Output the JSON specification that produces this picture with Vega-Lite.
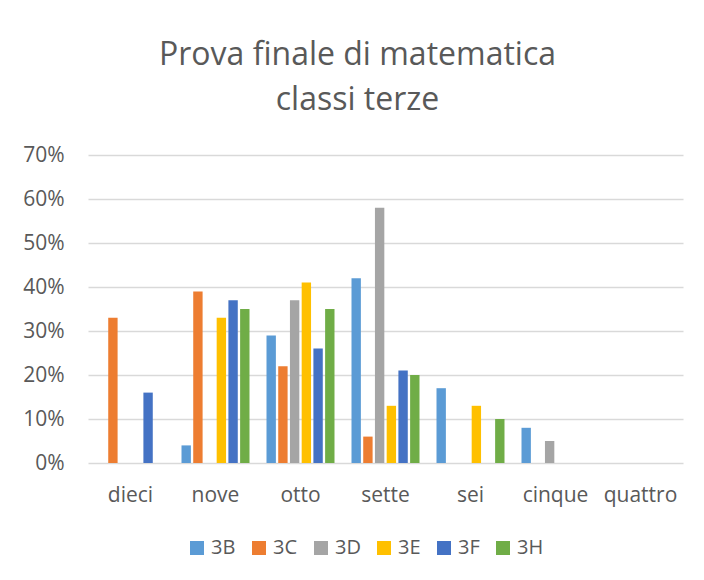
{
  "$schema": "https://vega.github.io/schema/vega-lite/v6.json",
  "width": 595,
  "height": 308,
  "autosize": {"type": "none"},
  "padding": {"left": 88, "top": 155, "right": 21, "bottom": 117},
  "background": "white",
  "title": {
    "text": ["Prova finale di matematica", "classi terze"],
    "fontSize": 32,
    "font": "Open Sans",
    "fontWeight": "normal",
    "color": "#595959",
    "lineHeight": 45,
    "anchor": "middle",
    "dx": -28,
    "offset": 27
  },
  "data": {
    "values": [
      {"voto": "dieci", "classe": "3C", "perc": 0.33},
      {"voto": "dieci", "classe": "3F", "perc": 0.16},
      {"voto": "nove", "classe": "3B", "perc": 0.04},
      {"voto": "nove", "classe": "3C", "perc": 0.39},
      {"voto": "nove", "classe": "3E", "perc": 0.33},
      {"voto": "nove", "classe": "3F", "perc": 0.37},
      {"voto": "nove", "classe": "3H", "perc": 0.35},
      {"voto": "otto", "classe": "3B", "perc": 0.29},
      {"voto": "otto", "classe": "3C", "perc": 0.22},
      {"voto": "otto", "classe": "3D", "perc": 0.37},
      {"voto": "otto", "classe": "3E", "perc": 0.41},
      {"voto": "otto", "classe": "3F", "perc": 0.26},
      {"voto": "otto", "classe": "3H", "perc": 0.35},
      {"voto": "sette", "classe": "3B", "perc": 0.42},
      {"voto": "sette", "classe": "3C", "perc": 0.06},
      {"voto": "sette", "classe": "3D", "perc": 0.58},
      {"voto": "sette", "classe": "3E", "perc": 0.13},
      {"voto": "sette", "classe": "3F", "perc": 0.21},
      {"voto": "sette", "classe": "3H", "perc": 0.20},
      {"voto": "sei", "classe": "3B", "perc": 0.17},
      {"voto": "sei", "classe": "3E", "perc": 0.13},
      {"voto": "sei", "classe": "3H", "perc": 0.10},
      {"voto": "cinque", "classe": "3B", "perc": 0.08},
      {"voto": "cinque", "classe": "3D", "perc": 0.05}
    ]
  },
  "mark": {"type": "bar"},
  "encoding": {
    "x": {
      "field": "voto",
      "type": "nominal",
      "scale": {"domain": ["dieci", "nove", "otto", "sette", "sei", "cinque", "quattro"], "paddingInner": 0.2, "paddingOuter": 0.1},
      "axis": {"title": null, "labelAngle": 0, "labelFontSize": 21, "labelFont": "Open Sans", "labelColor": "#595959", "ticks": false, "domain": false, "labelPadding": 21}
    },
    "xOffset": {
      "field": "classe",
      "type": "nominal",
      "scale": {"domain": ["3B", "3C", "3D", "3E", "3F", "3H"], "paddingInner": 0.2, "paddingOuter": 0}
    },
    "y": {
      "field": "perc",
      "type": "quantitative",
      "scale": {"domain": [0, 0.7], "nice": false},
      "axis": {"title": null, "format": ".0%", "values": [0, 0.1, 0.2, 0.3, 0.4, 0.5, 0.6, 0.7], "labelFontSize": 21, "labelFont": "Open Sans", "labelColor": "#595959", "ticks": false, "domain": false, "labelPadding": 24, "gridColor": "#d9d9d9", "gridWidth": 1.5}
    },
    "color": {
      "field": "classe",
      "type": "nominal",
      "scale": {"domain": ["3B", "3C", "3D", "3E", "3F", "3H"], "range": ["#5B9BD5", "#ED7D31", "#A5A5A5", "#FFC000", "#4472C4", "#70AD47"]},
      "legend": {
        "title": null,
        "orient": "none",
        "direction": "horizontal",
        "legendX": 99,
        "legendY": 383,
        "symbolType": "square",
        "symbolSize": 196,
        "symbolStrokeWidth": 0,
        "labelFontSize": 20,
        "labelFont": "Open Sans",
        "labelColor": "#595959",
        "labelOffset": 4,
        "columnPadding": 13
      }
    }
  },
  "config": {"view": {"stroke": null}}
}
